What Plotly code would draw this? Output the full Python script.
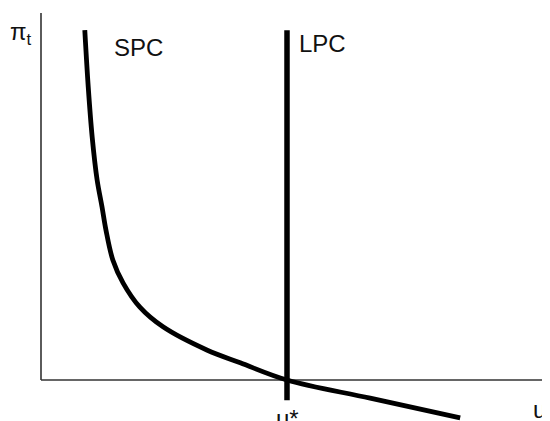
import plotly.graph_objects as go

# Short-run Phillips curve (unemployment u vs inflation pi_t), u* = 5
spc_u = [0.89, 0.96, 1.04, 1.14, 1.24, 1.32, 1.46, 1.67, 2.01, 2.48, 3.37, 4.05, 5.0, 6.69, 8.52]
spc_pi = [7.11, 5.96, 4.94, 4.07, 3.52, 3.05, 2.44, 1.97, 1.48, 1.08, 0.61, 0.35, 0.0, -0.37, -0.77]

# Long-run Phillips curve: vertical at the natural rate
u_star = 5.0
lpc_pi = [7.11, -0.41]

# axis extents
u_max = 10.35
pi_max = 7.46

PX = 49.2  # pixels per data unit on both axes
W, H = 550, 421
# origin position inside the figure (the page adds an 8px body margin)
X0, Y0 = 33, 372

fig = go.Figure()

# axes drawn as plain lines
fig.add_trace(go.Scatter(x=[0, 0], y=[0, pi_max], mode='lines',
                         line=dict(color='#333', width=1.6), hoverinfo='skip'))
fig.add_trace(go.Scatter(x=[0, u_max], y=[0, 0], mode='lines',
                         line=dict(color='#333', width=1.6), hoverinfo='skip'))

fig.add_trace(go.Scatter(x=spc_u, y=spc_pi, mode='lines', name='SPC',
                         line=dict(color='black', width=4.8, shape='spline', smoothing=1.0)))
fig.add_trace(go.Scatter(x=[u_star, u_star], y=lpc_pi, mode='lines', name='LPC',
                         line=dict(color='black', width=5.5)))

font = dict(family='Liberation Sans, Arial, sans-serif', size=24, color='#111')
labels = [
    ('π<sub>t</sub>', -0.40, 7.05, 24),
    ('SPC', 1.98, 6.75, 24),
    ('LPC', 5.73, 6.83, 24),
    ('u*', u_star, -0.78, 24),
    ('u', 10.14, -0.60, 24),
]
for text, x, y, size in labels:
    fig.add_annotation(x=x, y=y, text=text, showarrow=False, font=dict(font, size=size))

fig.update_layout(
    width=W,
    height=H,
    margin=dict(t=0, b=0, l=0, r=0),
    paper_bgcolor='white',
    plot_bgcolor='white',
    showlegend=False,
    xaxis=dict(range=[-X0 / PX, (W - X0) / PX], visible=False, fixedrange=True),
    yaxis=dict(range=[-(H - Y0) / PX, Y0 / PX], visible=False, fixedrange=True),
)

fig.write_html('out.html')
